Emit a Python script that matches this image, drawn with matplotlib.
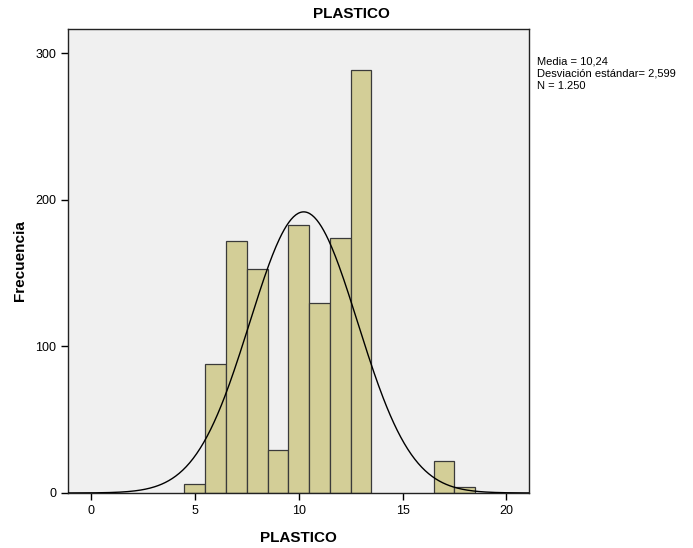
import numpy as np
import matplotlib
matplotlib.use("Agg")
import matplotlib.pyplot as plt

plt.rcParams['font.family'] = ['Liberation Sans', 'DejaVu Sans']

# histogram bins (centres, width 1) and counts
bin_centres = [5, 6, 7, 8, 9, 10, 11, 12, 13, 17, 18]
counts = [6, 88, 172, 153, 29, 183, 130, 174, 289, 22, 4]
bin_width = 1.0
media = 10.24
desv = 2.599
n_total = 1250

fig = plt.figure(figsize=(6.93, 5.48), dpi=100)
ax = fig.add_axes([0.0981, 0.1004, 0.665, 0.8467])
ax.set_facecolor('#f0f0f0')

ax.bar(bin_centres, counts, width=bin_width, color='#d3ce97',
       edgecolor='#3a3a3a', linewidth=0.9, zorder=2)

# normal curve scaled to counts
xs = np.linspace(-1.2, 21.2, 400)
ys = n_total * bin_width / (desv * np.sqrt(2 * np.pi)) * np.exp(-0.5 * ((xs - media) / desv) ** 2)
ax.plot(xs, ys, color='black', linewidth=1.0, zorder=3)

ax.set_xlim(-1.11, 21.08)
ax.set_ylim(0, 316.7)
ax.set_xticks([0, 5, 10, 15, 20])
ax.set_yticks([0, 100, 200, 300])
ax.tick_params(direction='out', length=5, width=1, labelsize=9, colors='black')
for s in ax.spines.values():
    s.set_linewidth(1.0)
    s.set_color('#222222')

fig.text(351 / 693, 1 - 14 / 548, 'PLASTICO', fontsize=11, fontweight='bold',
         ha='center', va='center')
ax.set_xlabel('PLASTICO', fontsize=11, fontweight='bold', labelpad=10)
ax.set_ylabel('Frecuencia', fontsize=11, fontweight='bold', labelpad=6)

fig.text(537 / 693, 1 - 56 / 548,
         'Media = 10,24\nDesviación estándar= 2,599\nN = 1.250',
         fontsize=8, va='top', ha='left', linespacing=1.3)

fig.savefig('out.png', dpi=100, facecolor='white')
